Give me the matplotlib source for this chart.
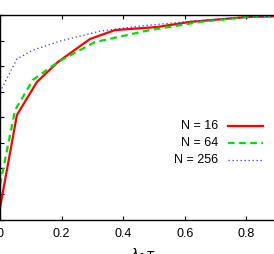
import numpy as np
import matplotlib
matplotlib.use("Agg")
import matplotlib.pyplot as plt

plt.rcParams['font.family'] = ['Liberation Sans', 'DejaVu Sans']

# values
x16 = [0.0, 0.055, 0.12, 0.188, 0.292, 0.373, 0.51, 0.617, 0.8, 1.0]
y16 = [0.245, 0.609, 0.738, 0.816, 0.906, 0.941, 0.953, 0.973, 0.992, 0.998]

x64 = [0.0, 0.049, 0.107, 0.188, 0.308, 0.487, 0.65, 0.8, 1.0]
y64 = [0.335, 0.628, 0.746, 0.816, 0.894, 0.941, 0.973, 0.992, 0.998]

x256 = [0.0, 0.055, 0.107, 0.195, 0.325, 0.455, 0.6, 0.8, 1.0]
y256 = [0.699, 0.828, 0.863, 0.898, 0.937, 0.957, 0.973, 0.992, 0.998]

labels = ['N = 16', 'N = 64', 'N = 256']
xticks = [0, 0.2, 0.4, 0.6, 0.8]
xticklabels = ['0', '0.2', '0.4', '0.6', '0.8']
yticks = [0.2, 0.3, 0.4, 0.5, 0.6, 0.7, 0.8, 0.9, 1.0]

W, H = 274, 254
fig = plt.figure(figsize=(W / 100, H / 100), dpi=100)
ax_l, ax_r, ax_t, ax_b = 0.0, 308.0, 15.0, 219.5
ax = fig.add_axes([ax_l / W, 1 - ax_b / H, (ax_r - ax_l) / W, (ax_b - ax_t) / H])

styles = [dict(color='#ff0000', lw=1.6, ls='-'),
          dict(color='#00e000', lw=1.6, ls=(0, (3, 2))),
          dict(color='#3030ff', lw=0.9, ls=(0, (1, 2.2)))]

series = [(x16, y16), (x64, y64), (x256, y256)]
for (xs, ys), st in zip(series, styles):
    ax.plot(xs, ys, **st)

ax.set_xlim(0, 1)
ax.set_ylim(0.2, 1.0)
ax.set_xticks(xticks)
ax.set_xticklabels(xticklabels)
ax.set_yticks(yticks)
ax.set_yticklabels([])
ax.tick_params(direction='in', length=3, width=0.8, top=True, right=True,
               labelsize=9, pad=6)
for s in ax.spines.values():
    s.set_linewidth(1.0)

ax.set_xlabel(r'$\lambda_0\tau$', fontsize=10)
ax.xaxis.set_label_coords(143 / 308, -(247 - ax_b) / (ax_b - ax_t))

# legend drawn by hand, text right-aligned
rows = [126, 143, 160]
for lab, st, py in zip(labels, styles, rows):
    fy = (ax_b - py) / (ax_b - ax_t)
    ax.text(218 / 308, fy, lab, transform=ax.transAxes, ha='right',
            va='center', fontsize=9)
    ax.plot([228 / 308, 263 / 308], [fy, fy], transform=ax.transAxes, **st)

fig.savefig('out.png', dpi=100)
